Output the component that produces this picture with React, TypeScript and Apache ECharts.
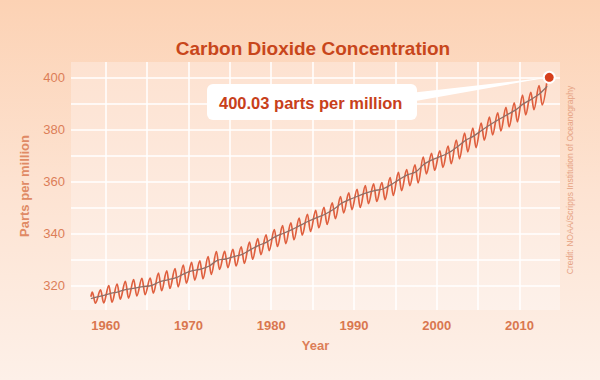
import { useEffect, useRef } from "react";
import * as echarts from "echarts";

// Mauna Loa CO2 record (ppm)
const YEARS = [
  1958, 1959, 1960, 1961, 1962, 1963, 1964, 1965, 1966, 1967,
  1968, 1969, 1970, 1971, 1972, 1973, 1974, 1975, 1976, 1977,
  1978, 1979, 1980, 1981, 1982, 1983, 1984, 1985, 1986, 1987,
  1988, 1989, 1990, 1991, 1992, 1993, 1994, 1995, 1996, 1997,
  1998, 1999, 2000, 2001, 2002, 2003, 2004, 2005, 2006, 2007,
  2008, 2009, 2010, 2011, 2012, 2013,
];
// seasonal maximum (May)
const MAY_PEAK = [
  317.5, 318.3, 320.0, 320.6, 321.6, 322.3, 322.8, 322.9, 324.8, 325.6,
  326.5, 327.9, 328.9, 329.5, 331.1, 333.0, 333.1, 333.9, 334.9, 336.7,
  338.0, 339.5, 341.5, 343.0, 344.1, 345.9, 347.4, 348.9, 350.0, 351.8,
  354.2, 355.6, 357.0, 358.4, 359.1, 359.6, 361.5, 363.5, 364.6, 366.4,
  369.4, 370.8, 371.8, 373.6, 375.9, 378.6, 380.5, 382.4, 384.7, 386.4,
  388.5, 390.2, 393.2, 394.2, 396.8, 399.8,
];
// seasonal minimum (late September / October), 1958 - 2012
const AUTUMN_LOW = [
  313.2, 313.3, 313.6, 314.8, 315.2, 316.0, 316.5, 317.1, 318.0, 318.9,
  319.5, 320.9, 322.1, 322.6, 324.3, 326.2, 326.9, 327.5, 328.5, 330.1,
  331.9, 333.4, 335.0, 336.1, 337.6, 339.4, 340.8, 342.2, 343.5, 345.7,
  347.9, 349.2, 350.0, 351.5, 352.3, 353.0, 354.6, 356.5, 358.4, 359.4,
  362.9, 364.3, 365.4, 366.8, 368.7, 371.4, 373.0, 375.9, 377.9, 379.4,
  381.0, 382.9, 385.6, 387.6, 389.4,
];
const FIRST_READING = { year: 1958.2, ppm: 315.7 };
const PEAK_FRACTION = 0.375; // May
const LOW_FRACTION = 0.75; // end of September

// seasonally adjusted trend (annual means)
const TREND_YEAR = [
  1958.2, 1959.5, 1960.5, 1961.5, 1962.5, 1963.5, 1964.5, 1965.5, 1966.5, 1967.5,
  1968.5, 1969.5, 1970.5, 1971.5, 1972.5, 1973.5, 1974.5, 1975.5, 1976.5, 1977.5,
  1978.5, 1979.5, 1980.5, 1981.5, 1982.5, 1983.5, 1984.5, 1985.5, 1986.5, 1987.5,
  1988.5, 1989.5, 1990.5, 1991.5, 1992.5, 1993.5, 1994.5, 1995.5, 1996.5, 1997.5,
  1998.5, 1999.5, 2000.5, 2001.5, 2002.5, 2003.5, 2004.5, 2005.5, 2006.5, 2007.5,
  2008.5, 2009.5, 2010.5, 2011.5, 2012.5, 2013.35,
];
const TREND_PPM = [
  315.0, 316.0, 316.9, 317.6, 318.5, 319.0, 319.6, 320.0, 321.4, 322.2,
  323.0, 324.6, 325.7, 326.3, 327.5, 329.7, 330.2, 331.1, 332.0, 333.8,
  335.4, 336.8, 338.8, 340.1, 341.5, 343.1, 344.7, 346.1, 347.4, 349.2,
  351.6, 353.1, 354.4, 355.6, 356.5, 357.1, 358.8, 360.8, 362.6, 363.7,
  366.7, 368.4, 369.6, 371.1, 373.3, 375.8, 377.5, 379.8, 381.9, 383.8,
  385.6, 387.4, 389.9, 391.7, 393.9, 396.6,
];

const HIGHLIGHT = { year: 2013.6, ppm: 400.03, label: "400.03 parts per million" };

// grid lines and tick labels
const X_GRID = [1960, 1965, 1970, 1975, 1980, 1985, 1990, 1995, 2000, 2005, 2010];
const X_LABELS = [1960, 1970, 1980, 1990, 2000, 2010];
const Y_GRID = [320, 330, 340, 350, 360, 370, 380, 390, 400];
const Y_LABELS = [320, 340, 360, 380, 400];

const TITLE = "Carbon Dioxide Concentration";
const CREDIT = "Credit: NOAA/Scripps Institution of Oceanography";
const X_NAME = "Year";
const Y_NAME = "Parts per million";

const SANS = "'Liberation Sans', Arial, sans-serif";

export default function App() {
  const ref = useRef<HTMLDivElement>(null);

  useEffect(() => {
    document.body.style.margin = "0";
    const el = ref.current!;
    const chart = echarts.init(el, null, { renderer: "svg" });

    const seasonal: number[][] = [[FIRST_READING.year, FIRST_READING.ppm]];
    YEARS.forEach((y, i) => {
      seasonal.push([y + PEAK_FRACTION, MAY_PEAK[i]]);
      if (AUTUMN_LOW[i] != null) seasonal.push([y + LOW_FRACTION, AUTUMN_LOW[i]]);
    });
    const trend = TREND_YEAR.map((y, i) => [y, TREND_PPM[i]]);

    const hasLabel = (list: number[], v: number) => list.some((t) => Math.abs(t - v) < 1e-6);

    chart.setOption({
      animation: false,
      backgroundColor: "transparent",
      grid: {
        left: 71,
        right: 40,
        top: 62,
        bottom: 70,
        show: true,
        borderWidth: 0,
        backgroundColor: new echarts.graphic.LinearGradient(0, 0, 0, 1, [
          { offset: 0, color: "#fde2d1" },
          { offset: 1, color: "#fdf1ea" },
        ]),
      },
      xAxis: {
        type: "value",
        min: 1955.8,
        max: 2014.9,
        minInterval: 5,
        maxInterval: 5,
        name: X_NAME,
        nameLocation: "middle",
        nameGap: 29,
        nameTextStyle: { color: "#dc7e58", fontSize: 13, fontWeight: "bold", fontFamily: SANS },
        axisLine: { show: false },
        axisTick: { show: false },
        axisLabel: {
          margin: 9,
          color: "#d9774f",
          fontSize: 13,
          fontWeight: "bold",
          fontFamily: SANS,
          showMinLabel: false,
          showMaxLabel: false,
          formatter: (v: number) => (hasLabel(X_LABELS, v) ? String(Math.round(v)) : ""),
        },
        splitLine: { show: false },
      },
      yAxis: {
        type: "value",
        min: 310.6,
        max: 405.9,
        minInterval: 10,
        maxInterval: 10,
        name: Y_NAME,
        nameLocation: "middle",
        nameGap: 40,
        nameTextStyle: { color: "#e08a65", fontSize: 13, fontWeight: "bold", fontFamily: SANS },
        axisLine: { show: false },
        axisTick: { show: false },
        axisLabel: {
          margin: 6,
          color: "#dc7e58",
          fontSize: 13,
          fontFamily: SANS,
          showMinLabel: false,
          showMaxLabel: false,
          formatter: (v: number) => (hasLabel(Y_LABELS, v) ? String(Math.round(v)) : ""),
        },
        splitLine: { show: false },
      },
      series: [
        {
          type: "line",
          data: [],
          silent: true,
          z: 1,
          markLine: {
            z: 1,
            silent: true,
            symbol: "none",
            label: { show: false },
            lineStyle: { color: "#ffffff", width: 1.5, type: "solid" },
            emphasis: { disabled: true },
            data: [
              ...X_GRID.map((x) => ({ xAxis: x })),
              ...Y_GRID.map((y) => ({ yAxis: y })),
            ],
          },
        },
        {
          type: "line",
          data: seasonal,
          showSymbol: false,
          smooth: 0.35,
          smoothMonotone: "x",
          lineStyle: { color: "#df5f3e", width: 1.7 },
          z: 10,
        },
        {
          type: "line",
          data: trend,
          showSymbol: false,
          smooth: 0.3,
          lineStyle: { color: "#8f6f67", width: 1.3 },
          z: 11,
        },
        {
          type: "scatter",
          data: [[HIGHLIGHT.year, HIGHLIGHT.ppm]],
          symbolSize: 11,
          itemStyle: { color: "#d63f1c", borderColor: "#ffffff", borderWidth: 2, opacity: 1 },
          z: 200,
        },
      ],
    });

    const [dx, dy] = chart.convertToPixel({ gridIndex: 0 }, [HIGHLIGHT.year, HIGHLIGHT.ppm]) as number[];

    chart.setOption({
      graphic: [
        {
          type: "text",
          x: 313,
          y: 48,
          style: {
            text: TITLE,
            fill: "#c8461b",
            font: `bold 19px ${SANS}`,
            align: "center",
            verticalAlign: "middle",
          },
        },
        {
          type: "text",
          x: 570,
          y: 180,
          rotation: Math.PI / 2,
          style: {
            text: CREDIT,
            fill: "#e6a384",
            font: `8.5px ${SANS}`,
            align: "center",
            verticalAlign: "middle",
          },
        },
        {
          type: "polygon",
          z: 100,
          shape: { points: [[410, 93], [410, 102], [dx, dy]] },
          style: { fill: "#ffffff" },
        },
        {
          type: "rect",
          z: 100,
          shape: { x: 207, y: 84, width: 210, height: 36, r: 6 },
          style: { fill: "#ffffff" },
        },
        {
          type: "text",
          z: 101,
          x: 219,
          y: 103,
          style: {
            text: HIGHLIGHT.label,
            fill: "#c8401a",
            font: `bold 16.5px ${SANS}`,
            align: "left",
            verticalAlign: "middle",
          },
        },
      ],
    });

    return () => chart.dispose();
  }, []);

  return (
    <div
      style={{
        position: "fixed",
        left: 0,
        top: 0,
        width: 600,
        height: 380,
        background: "linear-gradient(180deg, #fcd2b4 0%, #fde3d2 50%, #fdf0e8 100%)",
      }}
    >
      <div ref={ref} style={{ width: 600, height: 380 }} />
    </div>
  );
}
